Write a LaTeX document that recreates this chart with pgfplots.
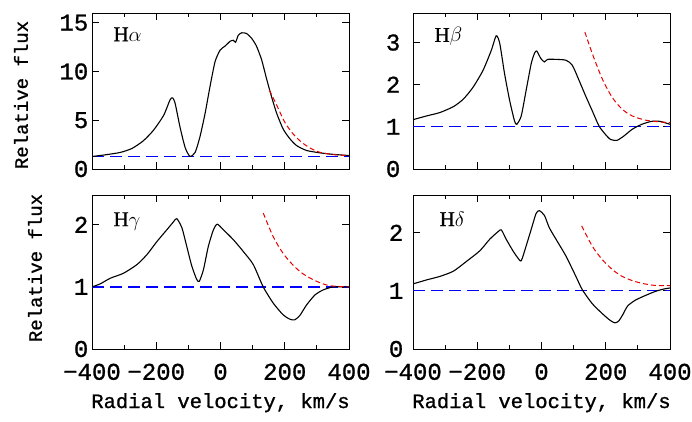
\documentclass[border=0pt]{standalone}
\usepackage{pgfplots}
\pgfplotsset{compat=1.18}
\usepackage{fontspec}
\setmainfont[FakeBold=1]{Liberation Mono}
\newfontfamily\serif[FakeBold=1]{Liberation Serif}
\definecolor{cblue}{RGB}{0,0,255}
\definecolor{cred}{RGB}{230,0,0}
\pgfplotsset{
  panel/.style={
    scale only axis, width=257pt,
    xmin=-400, xmax=400,
    xtick={-400,-200,0,200,400},
    minor x tick num=1,
    tick align=inside,
    major tick length=7pt, minor tick length=4pt,
    axis line style={line width=0.8pt},
    every tick/.style={line width=0.8pt, black},
    tick label style={font=\fontsize{24}{24}\selectfont, inner sep=0.5pt},
    xticklabel style={yshift=-14pt},
    yticklabel style={xshift=-3pt},
    /pgf/number format/assume math mode=true,
    clip=true,
  },
  prof/.style={draw=black, line width=1.1pt, smooth, tension=0.4, no marks},
  cont/.style={color=blue, line width=1.1pt, dash pattern=on 12pt off 6pt, no marks},
  fit/.style={draw=cred, line width=1.0pt, dash pattern=on 5pt off 3pt, smooth, no marks},
}
\tikzset{plab/.style={anchor=north west, font=\fontsize{21}{21}\selectfont}}
\begin{document}
\begin{tikzpicture}[x=1pt,y=1pt]
\useasboundingbox (0,0) rectangle (692,421);
% ---------------- H alpha
\begin{axis}[panel, at={(92pt,252pt)}, anchor=south west, height=156pt,
  ymin=0, ymax=16, ytick={0,5,10,15}, xticklabels={},
  yticklabels={0,5,10,15}]
\addplot[cont] coordinates {(-400,1.3) (400,1.3)};
\addplot[prof] coordinates {
(-400,1.28) (-353,1.48) (-312,1.7) (-276,2.1) (-240,2.9) (-208,4.0) (-177,5.5)
(-157,7.1) (-149,7.3) (-141,6.7) (-126,4.3) (-110,2.2) (-95,1.3) (-79,1.7)
(-64,3.3) (-48,5.7) (-33,8.4) (-17,11.0) (-1,12.2) (14,12.6) (30,13.1) (40,13.2)
(47,13.0) (55,13.7) (66,13.97) (81,13.9) (97,13.4) (112,12.6) (128,11.2)
(143,9.3) (159,7.4) (175,5.7) (195,4.1) (216,3.1) (237,2.4) (268,1.9) (309,1.66)
(351,1.5) (400,1.38)};
\addplot[fit] coordinates {
(152,8.1) (175,6.55) (200,4.8) (226,3.6) (252,2.76) (278,2.17) (309,1.72) (351,1.48) (400,1.38)};
\node[plab] at (rel axis cs:0.07,0.93) {{\serif H}$\alpha$};
\end{axis}
% ---------------- H beta
\begin{axis}[panel, at={(413pt,252pt)}, anchor=south west, height=156pt,
  ymin=0, ymax=3.7, ytick={0,1,2,3}, xticklabels={},
  yticklabels={0,1,2,3}, yticklabel style={xshift=-9pt}]
\addplot[cont] coordinates {(-400,1.0) (400,1.0)};
\addplot[prof] coordinates {
(-400,1.17) (-357,1.26) (-316,1.34) (-274,1.48) (-243,1.66) (-213,1.94) (-182,2.34)
(-156,2.82) (-141,3.16) (-130,2.98) (-115,2.26) (-99,1.62) (-84,1.14) (-77,1.06)
(-63,1.26) (-48,1.86) (-32,2.5) (-22,2.74) (-15,2.8) (-2,2.62) (9,2.54) (19,2.6)
(45,2.6) (76,2.58) (96,2.46) (117,2.1) (137,1.74) (158,1.38) (179,1.02) (199,0.82)
(215,0.70) (235,0.68) (256,0.78) (282,0.94) (312,1.06) (343,1.13) (369,1.13) (400,1.06)};
\addplot[fit] coordinates {
(135,3.25) (158,2.74) (189,2.14) (220,1.7) (251,1.42) (282,1.26) (323,1.16) (364,1.12) (400,1.10)};
\node[plab] at (rel axis cs:0.07,0.93) {{\serif H}$\beta$};
\end{axis}
% ---------------- H gamma
\begin{axis}[panel, at={(92pt,72pt)}, anchor=south west, height=154pt,
  ymin=0, ymax=2.48, ytick={0,1,2},
  yticklabels={0,1,2}, xticklabels={−400,−200,0,200,400}]
\addplot[draw=cblue, line width=1.4pt, dash pattern=on 12pt off 6pt, no marks] coordinates {(-400,1.0) (400,1.0)};
\addplot[prof] coordinates {
(-400,1.0) (-374,1.05) (-343,1.14) (-302,1.22) (-260,1.36) (-229,1.52) (-198,1.73)
(-167,1.92) (-146,2.05) (-136,2.1) (-120,1.95) (-105,1.65) (-89,1.33) (-74,1.12)
(-66,1.09) (-53,1.28) (-38,1.65) (-22,1.92) (-10,2.01) (9,1.92) (40,1.76) (71,1.57)
(102,1.36) (133,1.0) (164,0.74) (195,0.55) (216,0.48) (231,0.47) (247,0.54)
(268,0.71) (294,0.87) (319,0.95) (351,1.0) (400,1.0)};
\addplot[fit] coordinates {
(133,2.19) (164,1.81) (195,1.54) (226,1.35) (257,1.21) (299,1.09) (340,1.02) (400,1.0)};
\node[plab] at (rel axis cs:0.07,0.91) {{\serif H}$\gamma$};
\end{axis}
% ---------------- H delta
\begin{axis}[panel, at={(413pt,72pt)}, anchor=south west, height=154pt,
  ymin=0, ymax=2.65, ytick={0,1,2},
  yticklabels={0,1,2}, yticklabel style={xshift=-6pt},
  xticklabels={−400,−200,0,200,400}]
\addplot[cont] coordinates {(-400,1.0) (400,1.0)};
\addplot[prof] coordinates {
(-400,1.12) (-357,1.19) (-316,1.25) (-274,1.34) (-233,1.51) (-192,1.69) (-161,1.89)
(-135,2.02) (-125,2.05) (-110,1.89) (-89,1.69) (-74,1.57) (-63,1.52) (-48,1.77)
(-32,2.06) (-17,2.33) (-7,2.38) (9,2.3) (24,2.09) (45,1.89) (76,1.6) (107,1.25)
(127,1.02) (158,0.78) (189,0.61) (212,0.5) (228,0.45) (240,0.48) (254,0.6) (268,0.74)
(292,0.84) (323,0.92) (354,0.99) (379,1.03) (400,1.05)};
\addplot[fit] coordinates {
(125,2.12) (158,1.77) (189,1.54) (220,1.37) (251,1.25) (292,1.16) (343,1.1) (400,1.09)};
\node[plab] at (rel axis cs:0.09,0.915) {{\serif H}$\delta$};
\end{axis}
% ---------------- axis labels
\node[rotate=90, font=\fontsize{19}{19}\selectfont] at (21,326) {Relative flux};
\node[rotate=90, font=\fontsize{19}{19}\selectfont] at (35,153) {Relative flux};
\node[anchor=base, font=\fontsize{20.5}{20.5}\selectfont] at (220.5,13) {Radial velocity, km/s};
\node[anchor=base, font=\fontsize{20.5}{20.5}\selectfont] at (541.5,13) {Radial velocity, km/s};
\end{tikzpicture}
\end{document}
